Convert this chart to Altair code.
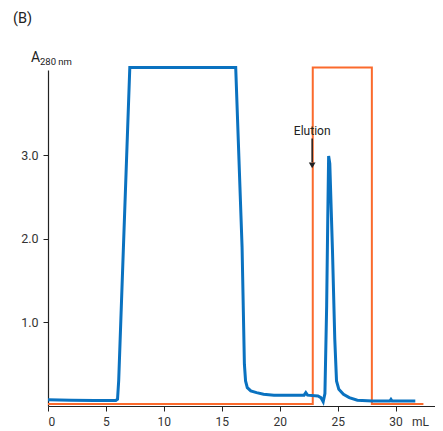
import altair as alt
import pandas as pd

# Blue A280 trace
blue_x = [0, 2, 4, 5.85, 6.0, 6.1, 7.06, 16.2, 16.75, 16.95, 17.05, 17.2, 17.5, 18.0, 18.6, 19.5, 21.0, 22.1,
          22.25, 22.4, 23.3, 23.55, 23.75, 23.9, 24.05, 24.15, 24.22, 24.32, 24.55, 24.75, 24.9, 25.1, 25.5,
          26.0, 26.7, 28.0, 29.5, 29.6, 29.7, 31.7]
blue_y = [0.075, 0.07, 0.065, 0.065, 0.08, 0.3, 4.05, 4.05, 1.9, 0.5, 0.3, 0.22, 0.18, 0.16, 0.14, 0.13, 0.13, 0.13,
          0.16, 0.13, 0.12, 0.1, 0.05, 0.15, 1.2, 2.3, 2.99, 2.9, 1.87, 0.8, 0.3, 0.2, 0.14,
          0.1, 0.07, 0.06, 0.06, 0.08, 0.06, 0.06]

# Orange elution step
orange_x = [0, 22.85, 22.85, 27.95, 27.95, 32.4]
orange_y = [0.025, 0.025, 4.05, 4.05, 0.025, 0.025]

x_ticks = [0, 5, 10, 15, 20, 25, 30]
y_ticks = [1, 2, 3]

FONT = "Roboto"
AX = "#222222"

blue_df = pd.DataFrame({"x": blue_x, "y": blue_y, "o": list(range(len(blue_x)))})
orange_df = pd.DataFrame({"x": orange_x, "y": orange_y, "o": list(range(len(orange_x)))})

xs = alt.Scale(domain=[0, 33.4], nice=False)
ys = alt.Scale(domain=[0, 4.02], nice=False)

x_axis = alt.Axis(values=x_ticks, title=None, grid=False, tickSize=5, labelPadding=5,
                  labelFontSize=12, labelColor="#333333", domainColor=AX, tickColor=AX,
                  labelFont=FONT, format="d")
y_axis = alt.Axis(values=y_ticks, title=None, grid=False, tickSize=5, labelPadding=5,
                  labelFontSize=12.5, labelColor="#333333", domainColor=AX, tickColor=AX,
                  labelFont=FONT, format=".1f")

blue = alt.Chart(blue_df).mark_line(color="#0a72c0", strokeWidth=3, clip=False).encode(
    x=alt.X("x:Q", scale=xs, axis=x_axis),
    y=alt.Y("y:Q", scale=ys, axis=y_axis),
    order="o:Q",
)

orange = alt.Chart(orange_df).mark_line(color="#fb6a2c", strokeWidth=2, clip=False).encode(
    x=alt.X("x:Q", scale=xs),
    y=alt.Y("y:Q", scale=ys),
    order="o:Q",
)

ann = pd.DataFrame({"x": [22.8], "y1": [3.2], "y2": [2.92], "ya": [2.88], "yt": [3.29], "t": ["Elution"]})

arrow = alt.Chart(ann).mark_rule(color="#222222", strokeWidth=1.5).encode(
    x="x:Q", y="y1:Q", y2="y2:Q")
head = alt.Chart(ann).mark_point(shape="triangle-down", filled=True, color="#222222", size=45, opacity=1).encode(
    x="x:Q", y="ya:Q")
elution = alt.Chart(ann).mark_text(font=FONT, fontSize=12, color="#222222", baseline="middle").encode(
    x="x:Q", y="yt:Q", text="t:N")

lab = pd.DataFrame({"t": ["(B)", "A", "280 nm", "mL"]})
b_txt = alt.Chart(lab).transform_filter("datum.t == '(B)'").mark_text(
    font=FONT, fontSize=14.5, color="#222222", align="left", baseline="alphabetic").encode(
    x=alt.value(-35), y=alt.value(-47), text="t:N")
a_txt = alt.Chart(lab).transform_filter("datum.t == 'A'").mark_text(
    font=FONT, fontSize=14, color="#222222", align="left", baseline="alphabetic").encode(
    x=alt.value(-17), y=alt.value(-8), text="t:N")
nm_txt = alt.Chart(lab).transform_filter("datum.t == '280 nm'").mark_text(
    font=FONT, fontSize=9.5, color="#222222", align="left", baseline="alphabetic").encode(
    x=alt.value(-8), y=alt.value(-5), text="t:N")
ml_txt = alt.Chart(lab).transform_filter("datum.t == 'mL'").mark_text(
    font=FONT, fontSize=12, color="#333333", align="left", baseline="alphabetic").encode(
    x=alt.value(364), y=alt.value(356), text="t:N")

chart = alt.layer(orange, blue, arrow, head, elution, b_txt, a_txt, nm_txt, ml_txt).properties(
    width=387, height=336,
    autosize=alt.AutoSizeParams(type="none"),
    padding={"left": 40, "top": 62, "right": 0, "bottom": 25},
).configure_view(stroke=None).configure_axisY(domainWidth=1.2).configure_axisX(domainWidth=1.2)

chart.save("out.html", embed_options={"renderer": "svg", "actions": False})
